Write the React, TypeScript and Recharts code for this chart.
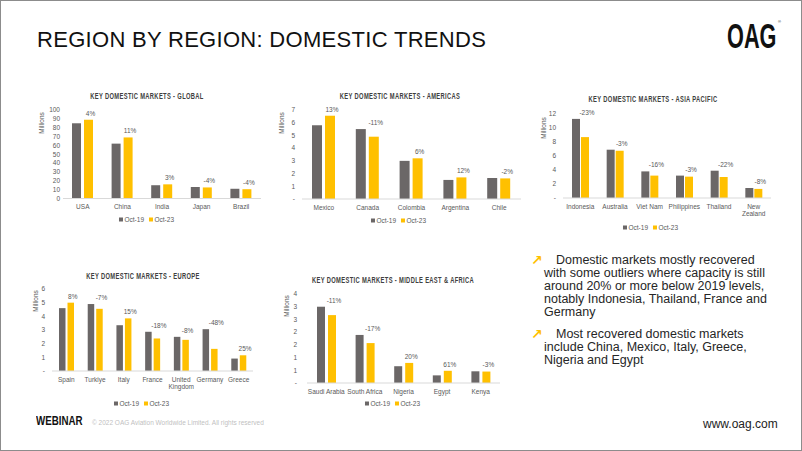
import { BarChart, Bar, XAxis, YAxis, LabelList } from 'recharts'

const GRAY = '#6b6767'
const GOLD = '#ffc000'
const AXIS = '#d9d9d9'
const MUTED = '#595959'
const SANS = '"Liberation Sans", Arial, sans-serif'

// Global
const globalMarkets = ['USA', 'China', 'India', 'Japan', 'Brazil']
const globalOct19 = [85, 62, 15, 13, 11]
const globalOct23 = [89, 69, 16, 12.5, 10.5]
const globalChange = ['4%', '11%', '3%', '-4%', '-4%']
const globalTicks = [0, 10, 20, 30, 40, 50, 60, 70, 80, 90, 100]

// Americas
const americasMarkets = ['Mexico', 'Canada', 'Colombia', 'Argentina', 'Chile']
const americasOct19 = [5.8, 5.5, 3.0, 1.5, 1.65]
const americasOct23 = [6.55, 4.9, 3.2, 1.7, 1.62]
const americasChange = ['13%', '-11%', '6%', '12%', '-2%']
const americasTicks = [0, 1, 2, 3, 4, 5, 6, 7]

// Asia Pacific
const apacMarkets = ['Indonesia', 'Australia', 'Viet Nam', 'Philippines', 'Thailand', 'New Zealand']
const apacOct19 = [11.3, 6.9, 3.8, 3.2, 3.9, 1.43]
const apacOct23 = [8.7, 6.75, 3.2, 3.05, 3.0, 1.3]
const apacChange = ['-23%', '-3%', '-16%', '-3%', '-22%', '-8%']
const apacTicks = [0, 2, 4, 6, 8, 10, 12]

// Europe
const europeMarkets = ['Spain', 'Turkiye', 'Italy', 'France', 'United Kingdom', 'Germany', 'Greece']
const europeOct19 = [4.6, 4.9, 3.35, 2.87, 2.5, 3.06, 0.91]
const europeOct23 = [5.0, 4.55, 3.85, 2.38, 2.28, 1.62, 1.15]
const europeChange = ['8%', '-7%', '15%', '-18%', '-8%', '-48%', '25%']
const europeTicks = [0, 1, 2, 3, 4, 5, 6]

// Middle East & Africa
const meaMarkets = ['Saudi Arabia', 'South Africa', 'Nigeria', 'Egypt', 'Kenya']
const meaOct19 = [3.0, 1.89, 0.66, 0.3, 0.46]
const meaOct23 = [2.67, 1.57, 0.79, 0.48, 0.45]
const meaChange = ['-11%', '-17%', '20%', '61%', '-3%']
const meaTicks = [0, 0.5, 1, 1.5, 2, 2.5, 3, 3.5]

const plainTick = (v: number) => String(v)
const dashZero = (v: number) => (v === 0 ? '-' : String(v))
const roundedTick = (v: number) => (v === 0 ? '-' : String(Math.round(v)))

type Plot = { x0: number; y0: number; x1: number; y1: number }

function MarketTick({ x, y, payload, wrap }: any) {
  const name = String(payload.value)
  const lines = wrap && name.length > 9 ? name.split(' ') : [name]
  return (
    <text x={x} y={y} textAnchor="middle" fontSize={6.5} fill={MUTED} fontFamily={SANS}>
      {lines.map((line, i) => (
        <tspan key={i} x={x} dy={i === 0 ? 10.5 : 7.5}>
          {line}
        </tspan>
      ))}
    </text>
  )
}

function Legend({ cx, cy }: { cx: number; cy: number }) {
  const item = (color: string, text: string) => (
    <span style={{ display: 'inline-flex', alignItems: 'center', marginRight: 5 }}>
      <span style={{ width: 4, height: 4, background: color, marginRight: 1.5 }} />
      {text}
    </span>
  )
  return (
    <div
      style={{
        position: 'absolute',
        left: cx,
        top: cy,
        transform: 'translate(-50%, -50%)',
        fontFamily: SANS,
        fontSize: 6.5,
        color: MUTED,
        whiteSpace: 'nowrap',
        display: 'flex',
      }}
    >
      {item(GRAY, 'Oct-19')}
      {item(GOLD, 'Oct-23')}
    </div>
  )
}

function ChartTitle({ text, cx, cy }: { text: string; cx: number; cy: number }) {
  return (
    <div
      style={{
        position: 'absolute',
        left: cx,
        top: cy,
        transform: 'translate(-50%, -50%) scaleX(0.68)',
        fontFamily: SANS,
        fontWeight: 700,
        fontSize: 8.5,
        letterSpacing: 0.5,
        color: '#404040',
        whiteSpace: 'nowrap',
      }}
    >
      {text}
    </div>
  )
}

interface MarketChartProps {
  markets: string[]
  oct19: number[]
  oct23: number[]
  change: string[]
  ticks: number[]
  formatTick: (v: number) => string
  plot: Plot
  yGap: number
  barSize: number
  barGap: number
  wrap?: boolean
  unitAt: [number, number]
}

function MarketChart({ markets, oct19, oct23, change, ticks, formatTick, plot, yGap, barSize, barGap, wrap, unitAt }: MarketChartProps) {
  const rows = markets.map((market, i) => ({
    market,
    oct19: oct19[i],
    oct23: oct23[i],
    change: change[i],
    peak: Math.max(oct19[i], oct23[i]),
  }))
  const yWidth = 30
  const top = 12
  const axisH = 24
  const right = 6
  const left = plot.x0 - yWidth
  const width = plot.x1 - left + right
  const height = plot.y1 - plot.y0 + top + axisH

  // label sits above the taller of the two bars, centred over the Oct-23 bar
  const changeLabel = (props: any) => {
    const box = props.viewBox ?? props
    const row = rows[props.index]
    if (!row || !box) return null
    const perUnit = box.height / row.oct23
    const peakTop = box.y - (row.peak - row.oct23) * perUnit
    return (
      <text x={box.x + box.width / 2 + 2} y={peakTop - 4} textAnchor="middle" fontSize={6.5} fill={MUTED} fontFamily={SANS}>
        {row.change}
      </text>
    )
  }

  const unitLabel = (props: any) => {
    const vb = props.viewBox
    const x = vb.x + unitAt[0]
    const y = vb.y + unitAt[1]
    return (
      <text x={x} y={y} transform={`rotate(-90 ${x} ${y})`} textAnchor="middle" dominantBaseline="central" fontSize={6.5} fill={MUTED} fontFamily={SANS}>
        Millions
      </text>
    )
  }

  return (
    <div style={{ position: 'absolute', left, top: plot.y0 - top }}>
      <BarChart width={width} height={height} data={rows} margin={{ top, right, bottom: 0, left: 0 }} barGap={barGap} barSize={barSize}>
        <XAxis
          dataKey="market"
          height={axisH}
          axisLine={{ stroke: AXIS }}
          tickLine={false}
          tickSize={0}
          tickMargin={0}
          interval={0}
          tick={(p: any) => <MarketTick {...p} wrap={wrap} />}
        />
        <YAxis
          width={yWidth}
          domain={[ticks[0], ticks[ticks.length - 1]]}
          ticks={ticks}
          interval={0}
          axisLine={false}
          tickLine={false}
          tickSize={0}
          tickMargin={yGap}
          tickFormatter={formatTick}
          tick={{ fontSize: 6.5, fill: MUTED, fontFamily: SANS }}
          label={{ content: unitLabel }}
        />
        <Bar dataKey="oct19" name="Oct-19" fill={GRAY} isAnimationActive={false} />
        <Bar dataKey="oct23" name="Oct-23" fill={GOLD} isAnimationActive={false}>
          <LabelList dataKey="change" content={changeLabel} />
        </Bar>
      </BarChart>
    </div>
  )
}

export default function App() {
  const bodyText: React.CSSProperties = {
    position: 'absolute',
    fontFamily: SANS,
    fontSize: 12.5,
    lineHeight: '13px',
    color: '#262626',
    whiteSpace: 'nowrap',
  }
  const arrow: React.CSSProperties = {
    position: 'absolute',
    fontFamily: '"DejaVu Sans", sans-serif',
    fontWeight: 700,
    fontSize: 14,
    lineHeight: '14px',
    color: GOLD,
  }
  return (
    <div
      style={{
        position: 'absolute',
        left: 0,
        top: 0,
        width: 802,
        height: 451,
        boxSizing: 'border-box',
        border: '1px solid #8c8c8c',
        background: '#fff',
        overflow: 'hidden',
      }}
    >
      <div
        style={{
          position: 'absolute',
          left: 36,
          top: 26,
          fontFamily: SANS,
          fontSize: 22,
          letterSpacing: 0.3,
          color: '#111',
          whiteSpace: 'nowrap',
        }}
      >
        REGION BY REGION: DOMESTIC TRENDS
      </div>
      <div
        style={{
          position: 'absolute',
          left: 726,
          top: 15,
          fontFamily: SANS,
          fontWeight: 700,
          fontSize: 35,
          color: '#111',
          transform: 'scaleX(0.62)',
          transformOrigin: 'left center',
          lineHeight: '40px',
          whiteSpace: 'nowrap',
        }}
      >
        OAG
      </div>
      <div style={{ position: 'absolute', left: 777, top: 18, fontSize: 4, fontFamily: SANS, color: '#111' }}>®</div>

      <ChartTitle text="KEY DOMESTIC MARKETS - GLOBAL" cx={146} cy={95} />
      <MarketChart
        markets={globalMarkets}
        oct19={globalOct19}
        oct23={globalOct23}
        change={globalChange}
        ticks={globalTicks}
        formatTick={plainTick}
        plot={{ x0: 62, y0: 109, x1: 260, y1: 197.5 }}
        yGap={3}
        barSize={9}
        barGap={3}
        unitAt={[8, 13]}
      />
      <Legend cx={148} cy={218} />

      <ChartTitle text="KEY DOMESTIC MARKETS - AMERICAS" cx={399} cy={95} />
      <MarketChart
        markets={americasMarkets}
        oct19={americasOct19}
        oct23={americasOct23}
        change={americasChange}
        ticks={americasTicks}
        formatTick={dashZero}
        plot={{ x0: 301, y0: 109, x1: 520, y1: 198 }}
        yGap={7}
        barSize={10}
        barGap={3}
        unitAt={[9, 13]}
      />
      <Legend cx={400} cy={219} />

      <ChartTitle text="KEY DOMESTIC MARKETS - ASIA PACIFIC" cx={652} cy={98} />
      <MarketChart
        markets={apacMarkets}
        oct19={apacOct19}
        oct23={apacOct23}
        change={apacChange}
        ticks={apacTicks}
        formatTick={dashZero}
        plot={{ x0: 562, y0: 113, x1: 770, y1: 197 }}
        yGap={7}
        barSize={8}
        barGap={1}
        wrap
        unitAt={[10, 14]}
      />
      <Legend cx={652} cy={226} />

      <ChartTitle text="KEY DOMESTIC MARKETS - EUROPE" cx={142} cy={275} />
      <MarketChart
        markets={europeMarkets}
        oct19={europeOct19}
        oct23={europeOct23}
        change={europeChange}
        ticks={europeTicks}
        formatTick={dashZero}
        plot={{ x0: 51, y0: 288, x1: 252, y1: 370 }}
        yGap={7}
        barSize={6.5}
        barGap={2}
        wrap
        unitAt={[13, 12]}
      />
      <Legend cx={143} cy={402} />

      <ChartTitle text="KEY DOMESTIC MARKETS - MIDDLE EAST & AFRICA" cx={392} cy={279} />
      <MarketChart
        markets={meaMarkets}
        oct19={meaOct19}
        oct23={meaOct23}
        change={meaChange}
        ticks={meaTicks}
        formatTick={roundedTick}
        plot={{ x0: 306, y0: 293, x1: 499, y1: 382 }}
        yGap={10}
        barSize={8}
        barGap={3}
        unitAt={[9, 12]}
      />
      <Legend cx={394} cy={402} />

      <div style={{ ...arrow, left: 530, top: 252 }}>↗</div>
      <div style={{ ...bodyText, left: 543, top: 253 }}>
        <span style={{ paddingLeft: 12 }}>Domestic markets mostly recovered</span>
        <br />
        with some outliers where capacity is still
        <br />
        around 20% or more below 2019 levels,
        <br />
        notably Indonesia, Thailand, France and
        <br />
        Germany
      </div>
      <div style={{ ...arrow, left: 530, top: 326 }}>↗</div>
      <div style={{ ...bodyText, left: 543, top: 327 }}>
        <span style={{ paddingLeft: 12 }}>Most recovered domestic markets</span>
        <br />
        include China, Mexico, Italy, Greece,
        <br />
        Nigeria and Egypt
      </div>

      <div
        style={{
          position: 'absolute',
          left: 35,
          top: 413,
          fontFamily: SANS,
          fontWeight: 700,
          fontSize: 12.5,
          color: '#111',
          lineHeight: '14px',
          transform: 'scaleX(0.78)',
          transformOrigin: 'left center',
          whiteSpace: 'nowrap',
        }}
      >
        WEBINAR
      </div>
      <div style={{ position: 'absolute', left: 91, top: 418, fontFamily: SANS, fontSize: 6.5, color: '#bfbfbf', whiteSpace: 'nowrap' }}>
        © 2022 OAG Aviation Worldwide Limited. All rights reserved
      </div>
      <div style={{ position: 'absolute', left: 702, top: 416, fontFamily: SANS, fontSize: 12, color: '#222', whiteSpace: 'nowrap' }}>
        www.oag.com
      </div>
    </div>
  )
}
